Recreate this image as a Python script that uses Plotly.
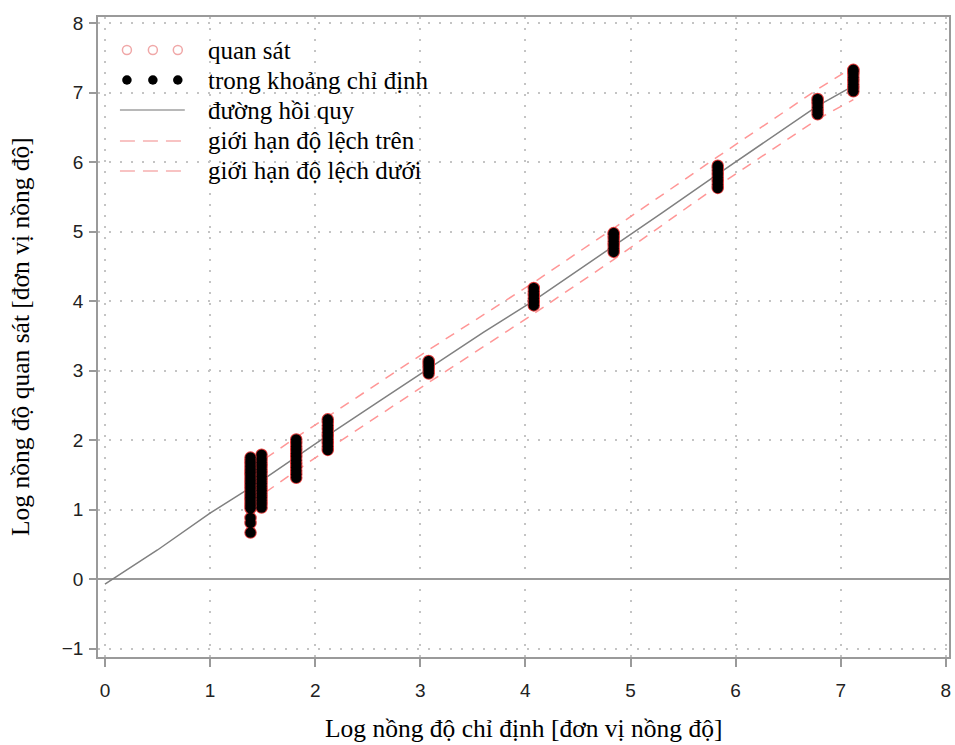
import plotly.graph_objects as go

# Nominal (assigned) log concentrations and the observed log concentrations at each level
levels = [1.385, 1.49, 1.82, 2.12, 3.08, 4.08, 4.84, 5.83, 6.78, 7.12]
observed = [
    [0.67, 0.81, 0.88, 1.02, 1.06, 1.10, 1.14, 1.18, 1.22, 1.26, 1.30, 1.34,
     1.38, 1.42, 1.46, 1.50, 1.54, 1.58, 1.62, 1.66, 1.70, 1.75],
    [1.03, 1.08, 1.13, 1.18, 1.23, 1.28, 1.33, 1.38, 1.43, 1.48, 1.53, 1.58,
     1.63, 1.68, 1.73, 1.79],
    [1.46, 1.51, 1.56, 1.61, 1.66, 1.71, 1.76, 1.81, 1.86, 1.91, 1.96, 2.01],
    [1.86, 1.91, 1.96, 2.01, 2.06, 2.11, 2.16, 2.21, 2.26, 2.30],
    [2.96, 3.00, 3.04, 3.08, 3.11, 3.14],
    [3.94, 3.99, 4.04, 4.09, 4.14, 4.19],
    [4.71, 4.76, 4.81, 4.86, 4.91, 4.96, 4.98],
    [5.63, 5.68, 5.73, 5.78, 5.83, 5.88, 5.92, 5.95],
    [6.69, 6.74, 6.79, 6.84, 6.88, 6.91],
    [7.02, 7.07, 7.12, 7.17, 7.22, 7.27, 7.31, 7.33],
]

# Regression curve
fit_x = [0.0, 0.5, 1.0, 1.385, 1.49, 1.82, 2.12, 2.6, 3.08, 3.6, 4.08, 4.84, 5.3, 5.83, 6.3, 6.78, 7.12]
fit_y = [-0.07, 0.42, 0.95, 1.32, 1.42, 1.76, 2.07, 2.55, 3.03, 3.55, 4.01, 4.79, 5.27, 5.83, 6.32, 6.81, 7.10]

# Deviation limits at each level
upper = [1.60, 1.70, 2.04, 2.34, 3.30, 4.27, 5.05, 6.08, 7.05, 7.37]
lower = [1.11, 1.21, 1.56, 1.87, 2.83, 3.82, 4.60, 5.66, 6.62, 6.90]

legend_labels = ["quan sát", "trong khoảng chỉ định", "đường hồi quy",
                 "giới hạn độ lệch trên", "giới hạn độ lệch dưới"]

xs, ys = [], []
for lv, vals in zip(levels, observed):
    xs += [lv] * len(vals)
    ys += vals

PINK = "#ff9696"
RED = "#e03a3a"
GRAY = "#808080"
AXIS = "#9a9a9a"

fig = go.Figure()

fig.add_trace(go.Scatter(x=levels, y=upper, mode="lines",
                         line=dict(color=PINK, width=1.5, dash="10px,8px"),
                         hoverinfo="skip"))
fig.add_trace(go.Scatter(x=levels, y=lower, mode="lines",
                         line=dict(color=PINK, width=1.5, dash="10px,8px"),
                         hoverinfo="skip"))
fig.add_trace(go.Scatter(x=fit_x, y=fit_y, mode="lines",
                         line=dict(color=GRAY, width=1.5), hoverinfo="skip"))
# all observations (open red circles) and those within the assigned range (black dots)
fig.add_trace(go.Scatter(x=xs, y=ys, mode="markers",
                         marker=dict(size=11, color="rgba(0,0,0,0)",
                                     line=dict(color=RED, width=1.5))))
fig.add_trace(go.Scatter(x=xs, y=ys, mode="markers",
                         marker=dict(size=10.5, color="black", line=dict(width=0))))

# Legend drawn on a pixel-scaled overlay axis
row_y = [50, 80, 110, 140, 170]
sym_x = [127, 153, 178]
fig.add_trace(go.Scatter(x=sym_x, y=[row_y[0]] * 3, mode="markers", xaxis="x2", yaxis="y2",
                         marker=dict(size=9, color="rgba(0,0,0,0)",
                                     line=dict(color="#f0a8a8", width=1.5))))
fig.add_trace(go.Scatter(x=sym_x, y=[row_y[1]] * 3, mode="markers", xaxis="x2", yaxis="y2",
                         marker=dict(size=9.5, color="black", line=dict(width=0))))
fig.add_trace(go.Scatter(x=[120, 185], y=[row_y[2]] * 2, mode="lines", xaxis="x2", yaxis="y2",
                         line=dict(color="#a0a0a0", width=1.5)))
for ry in row_y[3:]:
    fig.add_trace(go.Scatter(x=[120, 182], y=[ry + 1] * 2, mode="lines", xaxis="x2", yaxis="y2",
                             line=dict(color="#f6b0b0", width=1.5, dash="15px,8px")))

annotations = []
for ry, lab in zip(row_y, legend_labels):
    annotations.append(dict(x=206, y=ry, xref="x2", yref="y2", text=lab, showarrow=False,
                            xanchor="left", yanchor="middle",
                            font=dict(family="Liberation Serif", size=25, color="black")))

annotations.append(dict(x=0.5, y=0, xref="paper", yref="paper", yshift=-71,
                        text="Log nồng độ chỉ định [đơn vị nồng độ]", showarrow=False,
                        xanchor="center", yanchor="middle",
                        font=dict(family="Liberation Serif", size=25.5, color="black")))
annotations.append(dict(x=0, y=0.5, xref="paper", yref="paper", xshift=-78,
                        text="Log nồng độ quan sát [đơn vị nồng độ]", showarrow=False,
                        textangle=-90, xanchor="center", yanchor="middle",
                        font=dict(family="Liberation Serif", size=25.5, color="black")))

fig.update_layout(
    width=955, height=745, autosize=False,
    margin=dict(l=98, r=4, t=17, b=88),
    paper_bgcolor="white", plot_bgcolor="white",
    showlegend=False,
    annotations=annotations,
    xaxis=dict(range=[-0.066, 8.03], tickvals=list(range(0, 9)),
               showgrid=True, gridcolor="#c4c4c4", griddash="2px,9px", gridwidth=1.5,
               zeroline=False,
               showline=True, mirror=True, linecolor=AXIS, linewidth=1.5,
               ticks="outside", ticklen=8, tickwidth=1.5, tickcolor=AXIS,
               ticklabelstandoff=7,
               tickfont=dict(family="Liberation Sans", size=19, color="#222")),
    yaxis=dict(range=[-1.12, 8.09], tickvals=list(range(-1, 9)),
               ticktext=["\u22121"] + [str(v) for v in range(0, 9)],
               showgrid=True, gridcolor="#c4c4c4", griddash="2px,9px", gridwidth=1.5,
               zeroline=True, zerolinecolor="#9a9a9a", zerolinewidth=2,
               showline=True, mirror=True, linecolor=AXIS, linewidth=1.5,
               ticks="outside", ticklen=7, tickwidth=1.5, tickcolor=AXIS,
               ticklabelstandoff=2,
               tickfont=dict(family="Liberation Sans", size=19, color="#222")),
    xaxis2=dict(overlaying="x", range=[98, 951], visible=False, fixedrange=True),
    yaxis2=dict(overlaying="y", range=[657, 17], visible=False, fixedrange=True),
)

fig.write_html("out.html")
